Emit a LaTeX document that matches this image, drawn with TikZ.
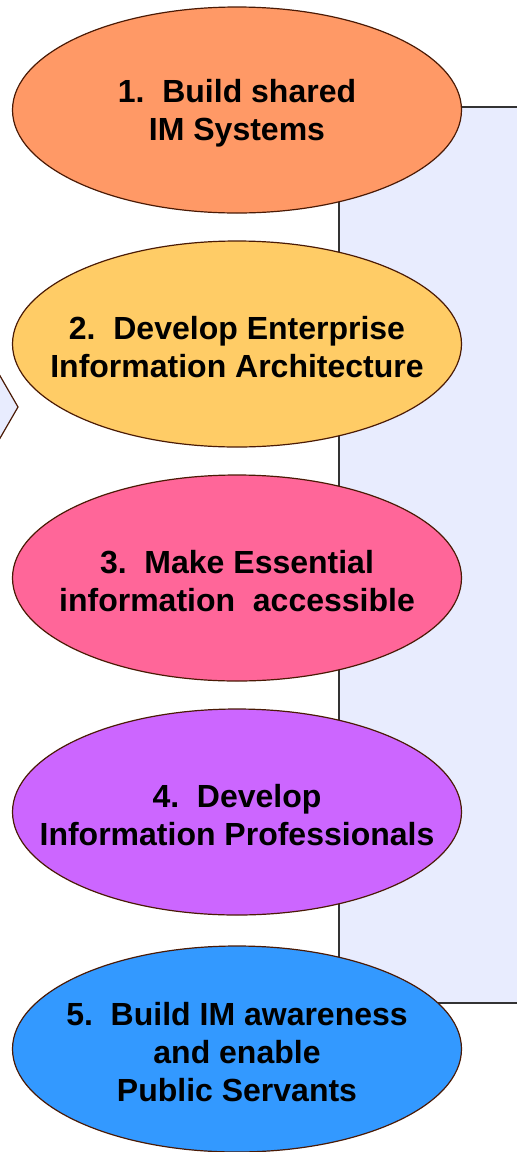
\documentclass[tikz,border=0pt]{standalone}
\usepackage{fontspec}
\setmainfont{Liberation Sans}
\usetikzlibrary{shapes.geometric}
\definecolor{edge}{HTML}{4A1A05}
\definecolor{panel}{HTML}{E8ECFE}
\definecolor{cA}{HTML}{FF9966}
\definecolor{cB}{HTML}{FFCC66}
\definecolor{cC}{HTML}{FF6699}
\definecolor{cD}{HTML}{CC66FF}
\definecolor{cE}{HTML}{3399FF}
\begin{document}
\begin{tikzpicture}[x=1pt,y=1pt,
  oval/.style={ellipse, draw=edge, line width=1.2pt, minimum width=449pt, minimum height=206pt, inner sep=0pt},
  txt/.style={align=center, inner sep=0pt, font=\fontsize{32}{38}\selectfont\bfseries}]
\useasboundingbox (0,0) rectangle (517,-1152);
\path[fill=panel, draw=black!80, line width=1.2pt] (339,-107) rectangle (540,-1003);
\path[fill=panel, draw=edge, line width=1.2pt] (-12,-355) -- (18,-407) -- (-12,-459);
\node[oval, fill=cA] (n1) at (237,-110) {};
\node[oval, fill=cB] (n2) at (237,-344) {};
\node[oval, fill=cC] (n3) at (237,-578) {};
\node[oval, fill=cD] (n4) at (237,-812) {};
\node[oval, fill=cE] (n5) at (237,-1049) {};
\node[txt] (t1) at ([yshift=-3pt]n1.center) {1.\ \ Build shared\\IM Systems};
\node[txt] (t2) at ([yshift=-3pt]n2.center) {2.\ \ Develop Enterprise\\Information Architecture};
\node[txt] (t3) at ([yshift=-3pt]n3.center) {3.\ \ Make Essential\\information\ \ accessible};
\node[txt] (t4) at ([yshift=-3pt]n4.center) {4.\ \ Develop\\Information Professionals};
\node[txt] (t5) at ([yshift=-3pt]n5.center) {5.\ \ Build IM awareness\\and enable\\Public Servants};
\end{tikzpicture}
\end{document}
